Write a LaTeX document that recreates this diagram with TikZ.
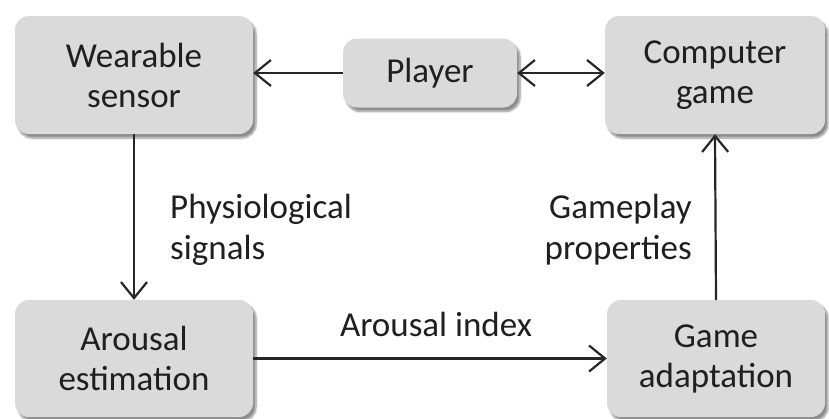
\documentclass[tikz,border=0pt]{standalone}
\usepackage{fontspec}
\setmainfont{Carlito}
\usetikzlibrary{arrows.meta,shadows.blur}

\tikzset{
  block/.style={
    draw=none, fill=boxgray, rounded corners=14pt,
    minimum width=#1, align=center, inner sep=0pt,
    font=\fontsize{35}{40}\selectfont,
    blur shadow={shadow xshift=3pt, shadow yshift=-4pt,
                 shadow blur steps=8, shadow opacity=45}
  },
  block/.default={238pt},
  flow/.style={line width=2.2pt, draw=black!85,
    -{Straight Barb[length=16pt,width=26pt]}},
  biflow/.style={line width=2.2pt, draw=black!85,
    {Straight Barb[length=16pt,width=26pt]}-{Straight Barb[length=16pt,width=26pt]}},
  lbl/.style={inner sep=0pt, font=\fontsize{35}{41}\selectfont}
}
\definecolor{boxgray}{HTML}{DADADA}

\begin{document}
\begin{tikzpicture}[x=1pt,y=-1pt,text=black!88]
  \useasboundingbox (0,0) rectangle (829,418);

  % blocks
  \node[block=238pt, minimum height=118pt] (ws) at (134,75) {Wearable\\sensor};
  \node[block=174pt, minimum height=69pt] (pl) at (430,73) {Player};
  \node[block=220pt, minimum height=118pt] (cg) at (715,75) {Computer\\game};
  \node[block=238pt, minimum height=117pt] (ae) at (134,358.5) {Arousal\\estimation};
  \node[block=218pt, minimum height=117pt] (ga) at (716,358.5) {Game\\adaptation};

  % connectors
  \draw[flow] (pl.west) -- (pl.west -| ws.east);
  \draw[biflow] (pl.east) -- (pl.east -| cg.west);
  \draw[flow] (ws.south) -- (ae.north);
  \draw[flow] (ae.east) -- (ga.west);
  \draw[flow] (ga.north) -- (cg.south);

  % connector labels
  \node[lbl, align=left, anchor=west] (ps) at (170,230) {Physiological\\signals};
  \node[lbl, align=right, anchor=east] (gp) at (692,230) {Gameplay\\properties};
  \node[lbl, anchor=base] (ai) at (436,336) {Arousal index};
\end{tikzpicture}
\end{document}
